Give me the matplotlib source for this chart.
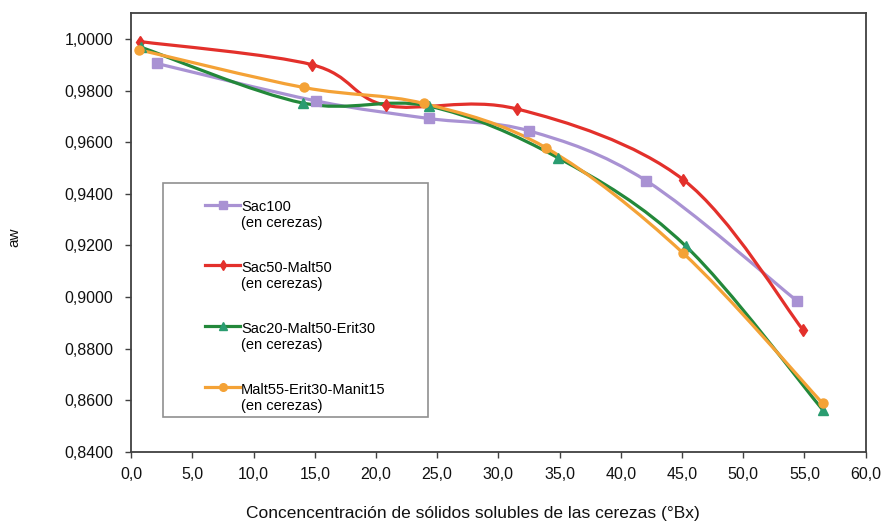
import numpy as np
import matplotlib
matplotlib.use("Agg")
import matplotlib.pyplot as plt
import matplotlib as mpl
from matplotlib.path import Path
from matplotlib.patches import PathPatch, Rectangle
from matplotlib.lines import Line2D
from matplotlib.legend_handler import HandlerLine2D

plt.rcParams["font.family"] = ["Liberation Sans", "DejaVu Sans"]

# values (Brix vs water activity)
sac100_x = [2.1, 15.1, 24.3, 32.5, 42.1, 54.4]
sac100_y = [0.9905, 0.9760, 0.9692, 0.9644, 0.9450, 0.8985]
sac50_x = [0.7, 14.8, 20.8, 31.5, 45.1, 54.9]
sac50_y = [0.9990, 0.9900, 0.9743, 0.9729, 0.9455, 0.8872]
sac20_x = [0.8, 14.0, 24.3, 34.9, 45.3, 56.5]
sac20_y = [0.9968, 0.9752, 0.9740, 0.9539, 0.9198, 0.8563]
malt55_x = [0.65, 14.1, 23.9, 33.9, 45.1, 56.5]
malt55_y = [0.9958, 0.9812, 0.9750, 0.9578, 0.9170, 0.8588]

labels = [
    "Sac100\n(en cerezas)",
    "Sac50-Malt50\n(en cerezas)",
    "Sac20-Malt50-Erit30\n(en cerezas)",
    "Malt55-Erit30-Manit15\n(en cerezas)",
]


def smooth_path(x, y):
    # excel-like smoothed line: bezier segments with catmull-rom tangents
    pts = np.column_stack([x, y])
    n = len(pts)
    verts = [pts[0]]
    codes = [Path.MOVETO]
    for i in range(n - 1):
        p0 = pts[max(i - 1, 0)]
        p1 = pts[i]
        p2 = pts[i + 1]
        p3 = pts[min(i + 2, n - 1)]
        verts += [p1 + (p2 - p0) / 6, p2 - (p3 - p1) / 6, p2]
        codes += [Path.CURVE4] * 3
    return Path(verts, codes)


class FirstLineHandler(HandlerLine2D):
    # put the legend line next to the first text line
    def create_artists(self, legend, orig_handle, xdescent, ydescent,
                       width, height, fontsize, trans):
        arts = super().create_artists(legend, orig_handle, xdescent, ydescent,
                                      width, height, fontsize, trans)
        for a in arts:
            a.set_ydata(np.asarray(a.get_ydata()) + fontsize * 0.75)
        return arts


series = [
    (sac100_x, sac100_y, "#A992D3", "#A992D3", "s", 6.5),
    (sac50_x, sac50_y, "#E3302B", "#E3302B", "d", 6.5),
    (sac20_x, sac20_y, "#23883A", "#2A9C70", "^", 7),
    (malt55_x, malt55_y, "#F4A236", "#F4A236", "o", 6.5),
]

fig = plt.figure(figsize=(8.86, 5.25), dpi=100)
ax = fig.add_axes([0.148, 0.139, 0.829, 0.836])

handles = []
for x, y, lc, mc, mk, ms in series:
    ax.add_patch(PathPatch(smooth_path(x, y), facecolor="none", edgecolor=lc,
                           lw=2.3, capstyle="round", joinstyle="round"))
    ax.plot(x, y, linestyle="none", marker=mk, markersize=ms, color=mc)
    handles.append(Line2D([], [], color=lc, lw=2.3, marker=mk,
                          markersize=ms - 1, markerfacecolor=mc,
                          markeredgecolor=mc))

ax.set_xlim(0, 60)
ax.set_ylim(0.84, 1.01)
ax.set_xticks(np.arange(0, 60.1, 5))
ax.set_yticks(np.arange(0.84, 1.001, 0.02))
ax.xaxis.set_major_formatter(
    mpl.ticker.FuncFormatter(lambda v, p: f"{v:.1f}".replace(".", ","))
)
ax.yaxis.set_major_formatter(
    mpl.ticker.FuncFormatter(lambda v, p: f"{v:.4f}".replace(".", ","))
)
ax.tick_params(axis="both", direction="out", length=4, width=1,
               color="#404040", labelsize=11.5, labelcolor="#111111")
ax.tick_params(axis="y", pad=9)
ax.tick_params(axis="x", pad=7)
for s in ax.spines.values():
    s.set_color("#404040")
    s.set_linewidth(1.3)

ax.set_xlabel("Concencentración de sólidos solubles de las cerezas (°Bx)",
              fontsize=12.5, color="#111111", va="center")
ax.xaxis.set_label_coords(0.465, -0.139)
ax.set_ylabel("aw", fontsize=11, color="#111111", va="center")
ax.yaxis.set_label_coords(-0.159, 0.49)

# legend box
ax.add_patch(Rectangle((0.0435, 0.080), 0.361, 0.533, transform=ax.transAxes,
                       facecolor="white", edgecolor="#909090", lw=1.2,
                       zorder=4))
ax.legend(handles, labels, loc="upper left", bbox_to_anchor=(0.101, 0.574),
          frameon=False, fontsize=10.5, handlelength=2.4, handletextpad=0.05,
          labelspacing=2.1, numpoints=1, borderpad=0, borderaxespad=0,
          handler_map={Line2D: FirstLineHandler()}).set_zorder(5)

fig.savefig("out.png", dpi=100)
